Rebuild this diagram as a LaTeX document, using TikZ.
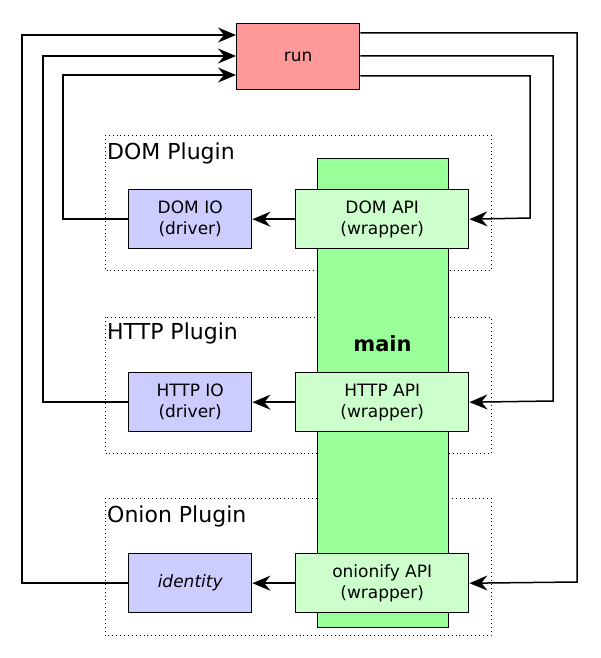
\documentclass[tikz,border=0pt]{standalone}
\usepackage{fontspec}
\setmainfont{DejaVu Sans}
\usetikzlibrary{arrows.meta,calc}
\definecolor{runred}{HTML}{FF9999}
\definecolor{maingreen}{HTML}{99FF99}
\definecolor{apigreen}{HTML}{CCFFCC}
\definecolor{ioblue}{HTML}{CCCCFF}
\begin{document}
\begin{tikzpicture}[x=1pt,y=-1pt,
  boxbase/.style={draw, line width=1.4pt, inner sep=0pt, anchor=north west, align=center, font=\fontsize{17}{21}\selectfont},
  apibox/.style={boxbase, fill=apigreen, minimum width=173pt, minimum height=59pt},
  iobox/.style={boxbase, fill=ioblue, minimum width=123pt, minimum height=59pt},
  plugin/.style={draw, line width=0.9pt, dash pattern=on 0.9pt off 3pt},
  plabel/.style={anchor=west, font=\fontsize{22}{26}\selectfont, inner sep=0pt},
  conn/.style={line width=1.5pt, -{Stealth[length=18pt,width=15pt,inset=6pt]}}
]
\useasboundingbox (0,0) rectangle (600,658);
% plugin frames
\draw[plugin] (105,135) rectangle (491,270);
\draw[plugin] (105,317) rectangle (491,453);
\draw[plugin] (105,498) rectangle (491,635);
\node[plabel] (domlab) at (107,153) {DOM Plugin};
\node[plabel] (httplab) at (107,333) {HTTP Plugin};
\node[plabel] (onionlab) at (107,516) {Onion Plugin};
% main column
\node[draw, line width=1.4pt, fill=maingreen, anchor=north west, minimum width=131pt, minimum height=469pt, inner sep=0pt] (main) at (317,158) {};
\node[font=\fontsize{21}{25}\selectfont\bfseries] (mainlab) at (382.5,344) {main};
% run
\node[boxbase, fill=runred, minimum width=123pt, minimum height=66pt] (run) at (236,23) {run};
% api boxes
\node[apibox] (domapi) at (295,189) {DOM API\\(wrapper)};
\node[apibox] (httpapi) at (295,372) {HTTP API\\(wrapper)};
\node[apibox] (onionapi) at (295,553) {onionify API\\(wrapper)};
% io boxes
\node[iobox] (domio) at (128,189) {DOM IO\\(driver)};
\node[iobox] (httpio) at (128,372) {HTTP IO\\(driver)};
\node[iobox] (ident) at (128,553) {\itshape identity};
% api -> io
\draw[conn] (domapi.west) -- (domio.east);
\draw[conn] (httpapi.west) -- (httpio.east);
\draw[conn] (onionapi.west) -- (ident.east);
% io -> run
\coordinate (r1) at (run.north west |- 0,35);
\coordinate (r2) at (run.north west |- 0,56);
\coordinate (r3) at (run.north west |- 0,75);
\draw[conn] (ident.west) -| (22,35) -- (r1);
\draw[conn] (httpio.west) -| (43,56) -- (r2);
\draw[conn] (domio.west) -| (63,75) -- (r3);
% run -> api
\coordinate (s1) at (run.north east |- 0,33);
\coordinate (s2) at (run.north east |- 0,56);
\coordinate (s3) at (run.north east |- 0,76);
\draw[conn] (s1) -| (577,582) -- (onionapi.east);
\draw[conn] (s2) -| (553,401) -- (httpapi.east);
\draw[conn] (s3) -| (530,218) -- (domapi.east);
\end{tikzpicture}
\end{document}
